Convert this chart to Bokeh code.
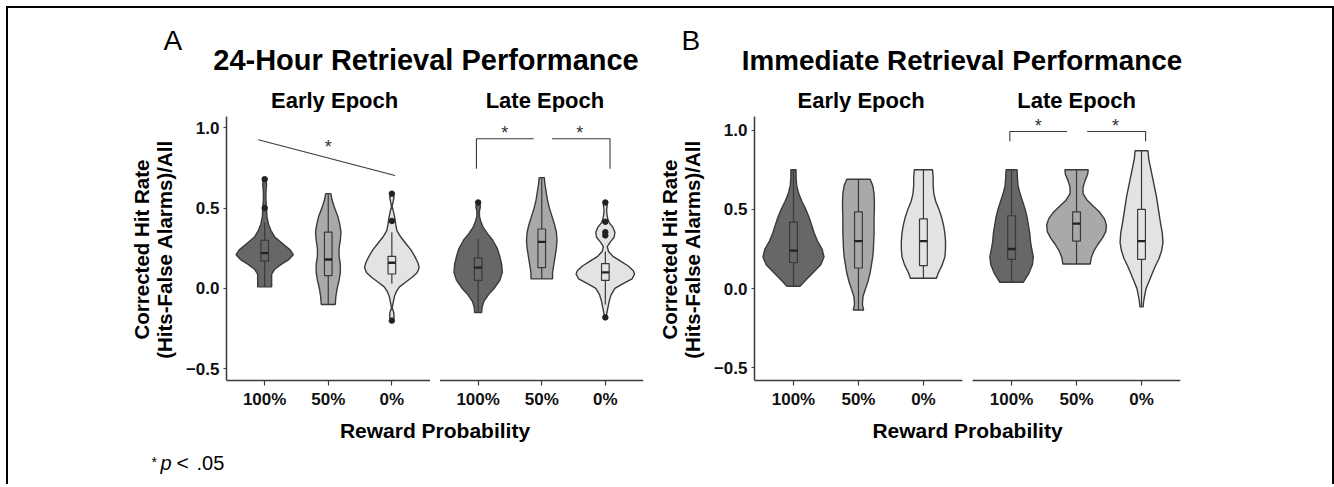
from bokeh.plotting import figure
from bokeh.layouts import row, column
from bokeh.models import FixedTicker, ColumnDataSource, Range1d
from bokeh.core.properties import value
from bokeh.embed import file_html
from bokeh.resources import INLINE

FONT = "Liberation Sans"
INK = "#3a3a3a"

# ---------------- data ----------------
CATEGORIES = ["100%", "50%", "0%"]
EPOCHS = ["Early Epoch", "Late Epoch"]
FILLS = ["#676767", "#a9a9a9", "#e3e3e3"]
Y_TICKS = [-0.5, 0.0, 0.5, 1.0]
Y_TICK_LABELS = ["\u22120.5", "0.0", "0.5", "1.0"]

# violin outlines: (value, half-width in category units)
A_EARLY_100 = [(0.68, 0.02), (0.65, 0.03), (0.60, 0.02), (0.55, 0.02), (0.50, 0.03), (0.45, 0.035),
               (0.40, 0.06), (0.36, 0.10), (0.32, 0.16), (0.28, 0.28), (0.24, 0.40), (0.21, 0.45),
               (0.18, 0.38), (0.15, 0.26), (0.12, 0.16), (0.09, 0.11), (0.05, 0.11), (0.01, 0.11)]
A_EARLY_50 = [(0.59, 0.04), (0.55, 0.06), (0.50, 0.10), (0.45, 0.15), (0.40, 0.18), (0.35, 0.20),
              (0.30, 0.19), (0.25, 0.17), (0.20, 0.17), (0.15, 0.19), (0.10, 0.19), (0.05, 0.17),
              (0.00, 0.14), (-0.05, 0.12), (-0.10, 0.11)]
A_EARLY_0 = [(0.59, 0.01), (0.57, 0.035), (0.54, 0.02), (0.51, 0.005), (0.47, 0.03), (0.43, 0.05),
             (0.40, 0.06), (0.36, 0.08), (0.32, 0.14), (0.28, 0.22), (0.24, 0.30), (0.20, 0.36),
             (0.16, 0.41), (0.13, 0.43), (0.10, 0.40), (0.07, 0.32), (0.04, 0.22), (0.01, 0.12),
             (-0.02, 0.07), (-0.05, 0.04), (-0.09, 0.02), (-0.12, 0.005), (-0.15, 0.03),
             (-0.18, 0.035), (-0.20, 0.01)]
A_LATE_100 = [(0.535, 0.02), (0.51, 0.035), (0.48, 0.02), (0.45, 0.02), (0.42, 0.04), (0.38, 0.08),
              (0.34, 0.15), (0.30, 0.23), (0.25, 0.30), (0.20, 0.34), (0.15, 0.37), (0.10, 0.38),
              (0.05, 0.34), (0.00, 0.25), (-0.04, 0.16), (-0.08, 0.09), (-0.12, 0.06), (-0.15, 0.055)]
A_LATE_50 = [(0.69, 0.04), (0.65, 0.05), (0.60, 0.07), (0.55, 0.09), (0.50, 0.12), (0.45, 0.16),
             (0.40, 0.20), (0.35, 0.23), (0.30, 0.24), (0.25, 0.23), (0.20, 0.21), (0.15, 0.19),
             (0.10, 0.17), (0.06, 0.17)]
A_LATE_0 = [(0.535, 0.01), (0.52, 0.03), (0.49, 0.02), (0.46, 0.025), (0.43, 0.04), (0.41, 0.06),
            (0.38, 0.12), (0.35, 0.15), (0.32, 0.14), (0.29, 0.08), (0.26, 0.03), (0.23, 0.05),
            (0.20, 0.12), (0.17, 0.24), (0.14, 0.36), (0.11, 0.44), (0.09, 0.46), (0.06, 0.42),
            (0.03, 0.28), (0.00, 0.15), (-0.04, 0.09), (-0.08, 0.06), (-0.12, 0.04),
            (-0.15, 0.025), (-0.18, 0.01)]

B_EARLY_100 = [(0.75, 0.04), (0.70, 0.04), (0.65, 0.05), (0.60, 0.08), (0.55, 0.13), (0.50, 0.19),
               (0.45, 0.24), (0.40, 0.28), (0.35, 0.32), (0.30, 0.37), (0.25, 0.44), (0.20, 0.47),
               (0.15, 0.42), (0.10, 0.30), (0.05, 0.18), (0.015, 0.10)]
B_EARLY_50 = [(0.69, 0.18), (0.65, 0.22), (0.60, 0.24), (0.55, 0.245), (0.50, 0.245), (0.45, 0.24),
              (0.40, 0.24), (0.35, 0.24), (0.30, 0.235), (0.25, 0.23), (0.20, 0.22), (0.15, 0.20),
              (0.10, 0.18), (0.05, 0.15), (0.00, 0.11), (-0.05, 0.07), (-0.10, 0.06), (-0.135, 0.08)]
B_EARLY_0 = [(0.75, 0.14), (0.70, 0.15), (0.65, 0.15), (0.60, 0.16), (0.55, 0.19), (0.50, 0.24),
             (0.45, 0.28), (0.40, 0.31), (0.35, 0.33), (0.30, 0.34), (0.25, 0.34), (0.20, 0.33),
             (0.15, 0.29), (0.10, 0.23), (0.065, 0.20)]
B_LATE_100 = [(0.75, 0.085), (0.70, 0.09), (0.65, 0.10), (0.60, 0.13), (0.55, 0.17), (0.50, 0.21),
              (0.45, 0.24), (0.40, 0.26), (0.35, 0.28), (0.30, 0.29), (0.25, 0.31), (0.20, 0.335),
              (0.15, 0.32), (0.10, 0.27), (0.04, 0.18)]
B_LATE_50 = [(0.75, 0.18), (0.72, 0.17), (0.68, 0.13), (0.64, 0.10), (0.60, 0.10), (0.56, 0.16),
             (0.52, 0.26), (0.48, 0.36), (0.44, 0.43), (0.40, 0.46), (0.36, 0.45), (0.32, 0.40),
             (0.28, 0.33), (0.24, 0.27), (0.20, 0.23), (0.155, 0.21)]
B_LATE_0 = [(0.87, 0.10), (0.82, 0.11), (0.76, 0.14), (0.70, 0.17), (0.64, 0.20), (0.58, 0.23),
            (0.50, 0.26), (0.42, 0.29), (0.35, 0.32), (0.29, 0.33), (0.24, 0.31), (0.19, 0.27),
            (0.14, 0.21), (0.09, 0.16), (0.04, 0.11), (0.00, 0.07), (-0.05, 0.045), (-0.09, 0.03),
            (-0.115, 0.025)]

# box-plot statistics, order: early 100/50/0, late 100/50/0
A_WHISK_LO = [0.01, -0.10, 0.03, -0.15, 0.06, -0.10]
A_Q1 = [0.17, 0.08, 0.09, 0.05, 0.13, 0.05]
A_MEDIAN = [0.22, 0.18, 0.16, 0.13, 0.29, 0.10]
A_Q3 = [0.30, 0.35, 0.20, 0.19, 0.37, 0.155]
A_WHISK_HI = [0.41, 0.59, 0.35, 0.31, 0.69, 0.23]
A_OUTLIERS = [[0.68, 0.50], [], [0.59, 0.42, -0.20], [0.535], [], [0.535, 0.415, 0.35, 0.33, -0.18]]

B_WHISK_LO = [0.015, -0.135, 0.065, 0.04, 0.155, -0.115]
B_Q1 = [0.165, 0.13, 0.145, 0.185, 0.30, 0.185]
B_MEDIAN = [0.24, 0.30, 0.30, 0.25, 0.41, 0.30]
B_Q3 = [0.42, 0.485, 0.44, 0.46, 0.485, 0.50]
B_WHISK_HI = [0.75, 0.69, 0.75, 0.75, 0.75, 0.87]
B_OUTLIERS = [[], [], [], [], [], []]

# ---------------- layout helpers ----------------
FACET_SPAN = 3.2
GAP = 0.157
POS = [i + 1 + f * (FACET_SPAN + GAP) for f in range(2) for i in range(3)]
X_START = 0.4
X_END = X_START + 2 * FACET_SPAN + GAP
FACET_BOUNDS = [(X_START, X_START + FACET_SPAN), (X_START + FACET_SPAN + GAP, X_END)]
BOX_HALF = 0.06

PAGE_L, PAGE_R = 8, 1332
HEADER_TOP, HEADER_H = 8, 104
PANEL_H = 334
FOOTER_TOP, FOOTER_H = 446, 40

# page geometry of each panel's plotting frame (left, right)
FRAME_A = (226, 643)
FRAME_B = (754, 1180)


def strip_centers(frame, dx):
    """Page x of each facet's centre inside a frame."""
    left, right = frame
    scale = (right - left) / (X_END - X_START)
    return [left + ((b[0] + b[1]) / 2 + d - X_START) * scale for b, d in zip(FACET_BOUNDS, dx)]


def text_strip(height, top, texts):
    """A plain figure whose frame fills its canvas, used for free-standing text."""
    p = figure(width=PAGE_R - PAGE_L, height=height, x_range=Range1d(PAGE_L, PAGE_R),
               y_range=Range1d(top + height, top), output_backend="svg", toolbar_location=None,
               min_border=0, title=None)
    p.axis.visible = False
    p.grid.visible = False
    p.outline_line_color = None
    p.background_fill_color = "white"
    p.border_fill_color = "white"
    for (txt, x, y, size, style, align) in texts:
        p.text(x=[x], y=[y], text=[txt], text_font=value(FONT), text_font_size=size,
               text_font_style=style, text_color="black", text_align=align,
               text_baseline="middle")
    return p


def build_panel(profiles, wlo, q1, med, q3, whi, outliers, geom, sig_lines, stars):
    p = figure(width=geom["W"], height=PANEL_H, title=None,
               x_range=Range1d(X_START, X_END), y_range=Range1d(geom["y0"], geom["y1"]),
               output_backend="svg", toolbar_location=None,
               min_border_left=geom["ml"], min_border_right=geom["mr"],
               min_border_top=geom["mt"], min_border_bottom=geom["mb"])
    p.background_fill_color = "white"
    p.border_fill_color = "white"
    p.outline_line_color = None
    p.xgrid.visible = False
    p.ygrid.visible = False

    xa = p.xaxis[0]
    xa.ticker = FixedTicker(ticks=POS)
    xa.major_label_overrides = {pos: lab for pos, lab in zip(POS, CATEGORIES * 2)}
    xa.axis_line_color = None
    xa.major_tick_in = 2
    xa.major_tick_out = 3
    xa.major_tick_line_color = INK
    xa.major_tick_line_width = 1.2
    xa.minor_tick_line_color = None
    xa.major_label_text_font = FONT
    xa.major_label_text_font_size = "17px"
    xa.major_label_text_font_style = "bold"
    xa.major_label_text_color = "#111111"
    xa.major_label_standoff = 4
    xa.axis_label = "Reward Probability"
    xa.axis_label_text_font = FONT
    xa.axis_label_text_font_size = "21px"
    xa.axis_label_text_font_style = "bold"
    xa.axis_label_text_color = "black"
    xa.axis_label_standoff = 7

    ya = p.yaxis[0]
    ya.ticker = FixedTicker(ticks=Y_TICKS)
    ya.major_label_overrides = dict(zip(Y_TICKS, Y_TICK_LABELS))
    ya.bounds = (geom["axis_y"], geom["y1"])
    ya.axis_line_color = INK
    ya.axis_line_width = 1.5
    ya.major_tick_in = 0
    ya.major_tick_out = 3
    ya.major_tick_line_color = INK
    ya.major_tick_line_width = 1.2
    ya.minor_tick_line_color = None
    ya.major_label_text_font = FONT
    ya.major_label_text_font_size = "17px"
    ya.major_label_text_font_style = "bold"
    ya.major_label_text_color = "#111111"
    ya.major_label_standoff = 4
    ya.axis_label = "Corrected Hit Rate\n(Hits-False Alarms)/All"
    ya.axis_label_text_font = FONT
    ya.axis_label_text_font_size = "20.5px"
    ya.axis_label_text_font_style = "bold"
    ya.axis_label_text_color = "black"
    ya.axis_label_text_line_height = 1.0
    ya.axis_label_standoff = 7

    # x-axis baselines, one per facet
    p.segment(x0=[b[0] for b in FACET_BOUNDS], x1=[b[1] for b in FACET_BOUNDS],
              y0=[geom["axis_y"]] * 2, y1=[geom["axis_y"]] * 2, line_color=INK, line_width=1.5)

    # violins
    xs, ys, fills = [], [], []
    for k, prof in enumerate(profiles):
        c = POS[k]
        right_x = [c + w for (_, w) in prof]
        left_x = [c - w for (_, w) in prof][::-1]
        vy = [v for (v, _) in prof]
        xs.append(right_x + left_x)
        ys.append(vy + vy[::-1])
        fills.append(FILLS[k % 3])
    p.patches(xs="xs", ys="ys", fill_color="fill", line_color=INK, line_width=1.4,
              source=ColumnDataSource(dict(xs=xs, ys=ys, fill=fills)))

    # whiskers, boxes, medians
    p.segment(x0=POS, x1=POS, y0=wlo, y1=whi, line_color=INK, line_width=1.2)
    p.quad(left=[c - BOX_HALF for c in POS], right=[c + BOX_HALF for c in POS],
           bottom=q1, top=q3, fill_color=[FILLS[k % 3] for k in range(6)],
           line_color=INK, line_width=1.2)
    p.segment(x0=[c - BOX_HALF for c in POS], x1=[c + BOX_HALF for c in POS],
              y0=med, y1=med, line_color="#222222", line_width=2.4)
    ox, oy = [], []
    for k, outs in enumerate(outliers):
        for v in outs:
            ox.append(POS[k])
            oy.append(v)
    if ox:
        p.scatter(ox, oy, size=5.5, marker="circle", fill_color="#222222", line_color="#222222")

    # significance marks
    for pts in sig_lines:
        p.line([q[0] for q in pts], [q[1] for q in pts], line_color=INK, line_width=1.1)
    p.text(x=[s[0] for s in stars], y=[s[1] for s in stars], text=["*"] * len(stars),
           text_font=value(FONT), text_font_size="18px", text_color="#333333",
           text_align="center", text_baseline="middle")
    return p


# panel A: canvas x 8..650, y 112..446; frame x 226..643, y 116..382
geom_a = dict(W=642, ml=218, mr=7, mt=4, mb=64, y0=-0.585, y1=1.070, axis_y=-0.5725)
# panel B: canvas x 650..1332; frame x 754..1180, y 113..385
geom_b = dict(W=682, ml=104, mr=152, mt=1, mb=61, y0=-0.5926, y1=1.0864, axis_y=-0.580)

sig_a = [[(0.90, 0.925), (3.05, 0.703)],
         [(4.33, 0.745), (4.33, 0.932), (5.23, 0.932)],
         [(5.52, 0.932), (6.43, 0.932), (6.43, 0.745)]]
stars_a = [(2.0, 0.878), (4.776, 0.968), (5.955, 0.968)]
sig_b = [[(4.33, 0.93), (4.33, 0.992), (5.21, 0.992)],
         [(5.52, 0.992), (6.42, 0.992), (6.42, 0.93)]]
stars_b = [(4.767, 1.028), (5.956, 1.028)]

pA = build_panel([A_EARLY_100, A_EARLY_50, A_EARLY_0, A_LATE_100, A_LATE_50, A_LATE_0],
                 A_WHISK_LO, A_Q1, A_MEDIAN, A_Q3, A_WHISK_HI, A_OUTLIERS, geom_a, sig_a, stars_a)
pB = build_panel([B_EARLY_100, B_EARLY_50, B_EARLY_0, B_LATE_100, B_LATE_50, B_LATE_0],
                 B_WHISK_LO, B_Q1, B_MEDIAN, B_Q3, B_WHISK_HI, B_OUTLIERS, geom_b, sig_b, stars_b)

sa = strip_centers(FRAME_A, (0.1, 0.05))
sb = strip_centers(FRAME_B, (0.04, 0.0))
header = text_strip(HEADER_H, HEADER_TOP, [
    ("A", 163, 40, "28px", "normal", "left"),
    ("24-Hour Retrieval Performance", 425.5, 59.5, "29px", "bold", "center"),
    ("B", 681, 40, "28px", "normal", "left"),
    ("Immediate Retrieval Performance", 961.5, 59.5, "27.8px", "bold", "center"),
    (EPOCHS[0], sa[0], 99.5, "22px", "bold", "center"),
    (EPOCHS[1], sa[1], 99.5, "22px", "bold", "center"),
    (EPOCHS[0], sb[0], 99.5, "22px", "bold", "center"),
    (EPOCHS[1], sb[1], 99.5, "22px", "bold", "center"),
])
footer = text_strip(FOOTER_H, FOOTER_TOP, [
    ("*", 151, 461, "14px", "normal", "left"),
    ("p", 160, 462, "20px", "italic", "left"),
    ("<", 176, 462, "21px", "normal", "left"),
    (".05", 196, 462, "20px", "normal", "left"),
])

layout = column(header, row(pA, pB, spacing=0), footer, spacing=0,
                styles={"margin-left": "8px", "margin-top": "8px",
                        "box-shadow": "-2px -2px 0 0 #000, 2px -2px 0 0 #000"})

open("out.html", "w").write(file_html(layout, INLINE))
